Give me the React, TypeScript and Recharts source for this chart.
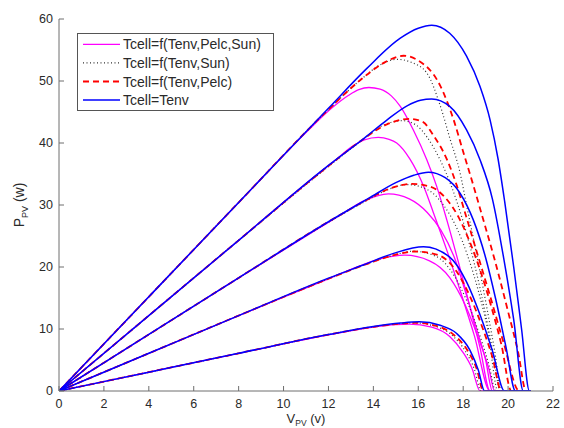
import { LineChart, Line, XAxis, YAxis } from "recharts";

type Curve = [number, number][];

// P-V curves (V in volts, P in watts), five irradiance levels per cell-temperature model

// Tcell=f(Tenv,Pelc,Sun)
const fullCurves: Curve[] = [
  [[0, 0], [4, 15.2], [8, 30.4], [11, 41.7], [12.2, 45.8], [12.9, 47.7], [13.35, 48.6], [13.8, 48.95], [14.3, 48.7], [14.8, 47.6], [15.2, 45.9], [15.78, 42.1], [16.38, 37.3], [16.82, 33.0], [17.27, 27.6], [17.8, 20.6], [18.3, 13.6], [18.75, 7.0], [19.2, 0], [21, 0]],
  [[0, 0], [4, 12.16], [8, 24.3], [11.5, 34.9], [12.4, 37.5], [13.0, 39.3], [13.6, 40.5], [14.22, 40.9], [14.7, 40.6], [15.04, 40.0], [15.63, 37.4], [16.23, 33.1], [16.67, 28.8], [17.3, 22.4], [17.9, 15.8], [18.5, 8.9], [19.2, 0], [21, 0]],
  [[0, 0], [4, 9.12], [8, 18.24], [11.5, 26.1], [12.5, 28.3], [13.6, 30.7], [14.67, 31.8], [15.6, 31.0], [16.4, 28.8], [17.0, 26.0], [17.6, 21.6], [18.1, 16.0], [18.6, 10.0], [19.0, 5.0], [19.3, 0], [21, 0]],
  [[0, 0], [4, 6.08], [8, 12.16], [12, 18.1], [13.2, 19.9], [14.3, 21.3], [15.4, 21.9], [16.5, 21.0], [17.4, 18.3], [18.1, 13.8], [18.7, 8.3], [19.15, 3.5], [19.4, 0], [21, 0]],
  [[0, 0], [4, 3.04], [8, 6.08], [12, 9.05], [14, 10.3], [15.0, 10.7], [15.6, 10.8], [16.6, 10.3], [17.4, 8.8], [18.0, 6.2], [18.4, 3.6], [18.75, 0], [21, 0]],
];

// Tcell=f(Tenv,Sun)
const sunCurves: Curve[] = [
  [[0, 0], [4, 15.2], [8, 30.4], [12, 45.4], [13.4, 50.1], [14.3, 52.6], [15.04, 53.5], [15.7, 53.0], [16.38, 51.3], [16.97, 46.1], [17.42, 40.6], [17.86, 35.2], [18.16, 29.8], [18.6, 22.0], [19.05, 13.5], [19.4, 6.5], [19.7, 0], [21, 0]],
  [[0, 0], [4, 12.16], [8, 24.3], [12, 36.2], [13.4, 40.2], [14.4, 42.8], [15.3, 43.6], [15.9, 42.9], [16.38, 41.0], [16.97, 37.3], [17.5, 32.8], [18.0, 27.3], [18.5, 20.5], [19.0, 12.3], [19.35, 5.8], [19.65, 0], [21, 0]],
  [[0, 0], [4, 9.12], [8, 18.24], [12, 27.2], [13.6, 30.5], [14.6, 32.4], [15.5, 33.3], [16.4, 32.5], [17.1, 30.1], [17.7, 26.4], [18.2, 21.8], [18.7, 15.8], [19.1, 9.8], [19.55, 0], [21, 0]],
  [[0, 0], [4, 6.08], [8, 12.16], [12, 18.1], [13.8, 20.6], [14.9, 21.9], [15.75, 22.55], [16.8, 21.7], [17.6, 18.6], [18.2, 14.2], [18.8, 8.3], [19.15, 4.2], [19.45, 0], [21, 0]],
  [[0, 0], [4, 3.04], [8, 6.08], [12, 9.1], [14, 10.35], [15.0, 10.8], [15.8, 11.0], [16.7, 10.5], [17.5, 9.0], [18.1, 6.4], [18.5, 3.5], [18.8, 0], [21, 0]],
];

// Tcell=f(Tenv,Pelc)
const pelcCurves: Curve[] = [
  [[0, 0], [4, 15.2], [8, 30.4], [12, 45.4], [13.5, 50.4], [14.5, 53.0], [15.34, 54.07], [15.95, 53.4], [16.97, 49.3], [17.56, 43.9], [18.0, 38.6], [18.45, 33.2], [18.85, 28.2], [19.4, 21.2], [20.0, 12.8], [20.45, 6.2], [20.8, 0], [21, 0]],
  [[0, 0], [4, 12.16], [8, 24.3], [12, 36.3], [13.5, 40.5], [14.6, 43.0], [15.6, 43.9], [16.2, 43.4], [16.68, 41.2], [17.27, 37.4], [17.71, 33.2], [18.08, 28.8], [18.6, 22.5], [19.2, 15.3], [19.8, 7.8], [20.5, 0], [21, 0]],
  [[0, 0], [4, 9.12], [8, 18.24], [12, 27.3], [13.5, 30.4], [14.7, 32.6], [15.71, 33.4], [16.5, 33.0], [17.2, 31.2], [17.8, 28.0], [18.3, 24.0], [18.8, 19.0], [19.3, 13.0], [19.7, 7.5], [20.15, 0], [21, 0]],
  [[0, 0], [4, 6.08], [8, 12.16], [12, 18.1], [13.8, 20.6], [15.0, 22.0], [15.86, 22.5], [16.9, 21.9], [17.7, 19.3], [18.3, 15.3], [18.9, 9.8], [19.3, 5.5], [19.7, 0], [21, 0]],
  [[0, 0], [4, 3.04], [8, 6.08], [12, 9.1], [14, 10.35], [15.0, 10.8], [15.85, 11.0], [16.8, 10.5], [17.6, 9.0], [18.2, 6.5], [18.6, 3.6], [18.9, 0], [21, 0]],
];

// Tcell=Tenv
const tenvCurves: Curve[] = [
  [[0, 0], [4, 15.2], [8, 30.4], [12, 45.6], [13.7, 52.0], [15.2, 56.9], [16.0, 58.5], [16.6, 59.0], [17.4, 57.7], [18.15, 54.0], [18.75, 49.1], [19.2, 43.7], [19.55, 37.5], [19.85, 30.5], [20.25, 20.0], [20.6, 10.0], [20.95, 0], [21, 0]],
  [[0, 0], [4, 12.16], [8, 24.3], [12, 36.4], [13.6, 40.8], [14.6, 43.7], [15.5, 46.0], [16.1, 46.9], [16.6, 47.1], [17.4, 45.9], [18.15, 42.1], [18.75, 37.3], [19.3, 31.0], [19.8, 21.5], [20.25, 11.5], [20.68, 0], [21, 0]],
  [[0, 0], [4, 9.12], [8, 18.24], [12, 27.3], [13.8, 31.1], [15.0, 33.6], [15.8, 34.8], [16.45, 35.3], [17.2, 34.4], [17.86, 31.9], [18.45, 27.6], [19.0, 21.5], [19.45, 14.8], [19.9, 7.2], [20.33, 0], [21, 0]],
  [[0, 0], [4, 6.08], [8, 12.16], [12, 18.2], [13.6, 20.4], [14.9, 22.2], [16.23, 23.26], [17.4, 21.6], [18.15, 17.6], [18.75, 12.3], [19.3, 6.5], [19.84, 0], [21, 0]],
  [[0, 0], [4, 3.04], [8, 6.08], [12, 9.1], [14, 10.4], [15.2, 10.95], [16.05, 11.15], [16.97, 10.6], [17.71, 9.27], [18.3, 6.6], [18.68, 3.3], [18.95, 0], [21, 0]],
];

const vTicks = [0, 2, 4, 6, 8, 10, 12, 14, 16, 18, 20, 22];
const pTicks = [0, 10, 20, 30, 40, 50, 60];

const seriesNames = [
  "Tcell=f(Tenv,Pelc,Sun)",
  "Tcell=f(Tenv,Sun)",
  "Tcell=f(Tenv,Pelc)",
  "Tcell=Tenv",
];

const series = [
  { name: seriesNames[0], curves: fullCurves, stroke: "#ff00ff", width: 1.3, dash: undefined },
  { name: seriesNames[1], curves: sunCurves, stroke: "#333333", width: 1.2, dash: "1 2.5" },
  { name: seriesNames[2], curves: pelcCurves, stroke: "#ff0000", width: 1.8, dash: "6 4" },
  { name: seriesNames[3], curves: tenvCurves, stroke: "#0000ff", width: 1.5, dash: undefined },
];

const FONT = "'Liberation Sans', Arial, sans-serif";
const TEXT = "#2a2a2a";
const FRAME = "#6e6e6e";

const toRows = (c: Curve) => c.map(([v, p]) => ({ v, p }));

function XTitle(props: any) {
  const { x, y, width } = props.viewBox;
  return (
    <text x={x + width / 2} y={y + 32} textAnchor="middle" fontFamily={FONT} fontSize={13} fill={TEXT}>
      V
      <tspan fontSize={8.5} dy={2.5}>PV</tspan>
      <tspan dy={-2.5}> (v)</tspan>
    </text>
  );
}

function YTitle(props: any) {
  const { y, height } = props.viewBox;
  const cx = 24;
  const cy = y + height / 2;
  return (
    <text
      x={cx}
      y={cy}
      transform={`rotate(-90, ${cx}, ${cy})`}
      textAnchor="middle"
      fontFamily={FONT}
      fontSize={14}
      fill={TEXT}
    >
      P
      <tspan fontSize={9} dy={4}>PV</tspan>
      <tspan dy={-4}> (w)</tspan>
    </text>
  );
}

function LegendBox() {
  return (
    <svg
      width={198}
      height={79}
      style={{ position: "absolute", left: 77, top: 33, overflow: "visible" }}
    >
      <rect x={0.5} y={0.5} width={196} height={77} fill="#ffffff" stroke="#555555" />
      {series.map((s, i) => {
        const cy = 11.3 + i * 18.6;
        return (
          <g key={s.name}>
            <line x1={6} x2={43} y1={cy} y2={cy} stroke={s.stroke} strokeWidth={s.width} strokeDasharray={s.dash} />
            <text x={46} y={cy + 5} fontFamily={FONT} fontSize={14} fill={TEXT}>
              {s.name}
            </text>
          </g>
        );
      })}
    </svg>
  );
}

export default function App() {
  const tickStyle = { fontFamily: FONT, fontSize: 12.5, fill: TEXT };
  return (
    <div style={{ position: "absolute", left: 0, top: 0, width: 564, height: 428, background: "#fff" }}>
      <LineChart width={564} height={428} margin={{ top: 19, right: 11, bottom: 0, left: 0 }}>
        <XAxis
          xAxisId="b"
          dataKey="v"
          type="number"
          domain={[0, 22]}
          ticks={vTicks}
          allowDataOverflow
          height={37}
          tickSize={-5}
          tickMargin={13}
          stroke={FRAME}
          tick={tickStyle}
          label={XTitle}
        />
        <XAxis
          xAxisId="t"
          orientation="top"
          dataKey="v"
          type="number"
          domain={[0, 22]}
          ticks={vTicks}
          height={0}
          tickSize={-5}
          stroke={FRAME}
          tick={false}
        />
        <YAxis
          yAxisId="l"
          dataKey="p"
          type="number"
          domain={[0, 60]}
          ticks={pTicks}
          allowDataOverflow
          width={59}
          tickSize={-5}
          tickMargin={11}
          stroke={FRAME}
          tick={tickStyle}
          label={YTitle}
        />
        <YAxis
          yAxisId="r"
          orientation="right"
          dataKey="p"
          type="number"
          domain={[0, 60]}
          ticks={pTicks}
          width={0}
          tickSize={-5}
          stroke={FRAME}
          tick={false}
        />
        {series.map((s) =>
          s.curves.map((c, k) => (
            <Line
              key={`${s.name}-${k}`}
              xAxisId="b"
              yAxisId="l"
              data={toRows(c)}
              dataKey="p"
              type="monotone"
              stroke={s.stroke}
              strokeWidth={s.width}
              strokeDasharray={s.dash}
              dot={false}
              activeDot={false}
              isAnimationActive={false}
            />
          ))
        )}
      </LineChart>
      <LegendBox />
    </div>
  );
}
